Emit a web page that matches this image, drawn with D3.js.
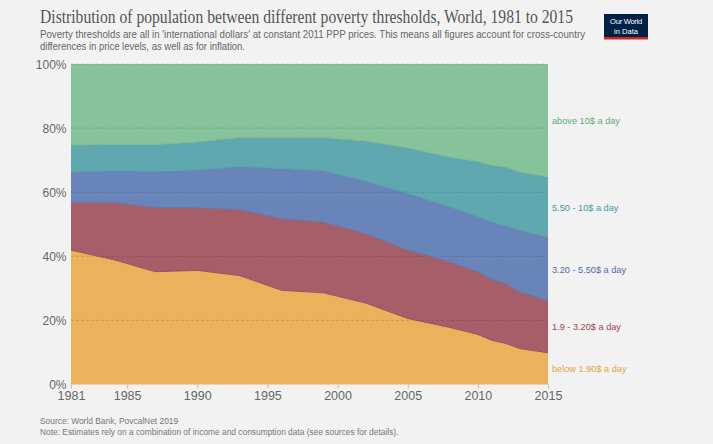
<!DOCTYPE html>
<html><head><meta charset="utf-8">
<script src="https://cdn.jsdelivr.net/npm/d3@7"></script>
<style>
html,body{margin:0;padding:0;background:#f2f2f2;}
svg{display:block;}
</style></head>
<body>
<svg id="chart" width="713" height="444"></svg>
<script>
const years = [1981,1984,1987,1990,1993,1996,1999,2002,2005,2008,2010,2011,2012,2013,2015];
// shares in % of population, by threshold band
const below190  = [41.9,39.0,35.2,35.6,34.0,29.4,28.6,25.4,20.6,17.8,15.6,13.8,12.8,11.2,9.9];
const b190_320  = [15.0,17.9,20.0,19.6,20.6,22.4,22.1,21.7,21.4,20.5,19.6,19.0,18.7,17.7,16.3];
const b320_550  = [9.4,9.8,11.3,11.7,13.4,15.6,16.0,16.4,17.6,17.1,17.2,17.9,18.0,19.2,19.8];
const b550_10   = [8.4,8.3,8.4,8.8,9.1,9.7,10.4,12.5,14.3,15.6,17.2,17.7,18.4,18.2,18.8];
const above10   = [25.3,25.0,25.1,24.3,22.9,22.9,22.9,24.0,26.1,29.0,30.4,31.6,32.1,33.7,35.2];
const seriesNames = ["below 1.90$ a day","1.9 - 3.20$ a day","3.20 - 5.50$ a day","5.50 - 10$ a day","above 10$ a day"];
const seriesValues = [below190,b190_320,b320_550,b550_10,above10];
const fills = ["#ebb25c","#a65f69","#6884b8","#5fa8b0","#87c39a"];
const strokes = ["#e3a84e","#9a525d","#5d79ae","#549ea7","#7bba8f"];
const labelColors = ["#e8a33a","#a3414f","#4c6cad","#3d9aa6","#5aae75"];
const xTicks = [1981,1985,1990,1995,2000,2005,2010,2015];
const yTicks = [0,20,40,60,80,100];

const svg = d3.select("#chart");
const m = {left:71,right:548,top:64,bottom:384.5};
const x = d3.scaleLinear().domain([1981,2015]).range([m.left,m.right]);
const y = d3.scaleLinear().domain([0,100]).range([m.bottom,m.top]);

const table = years.map((yr,i)=>{const o={year:yr}; seriesNames.forEach((n,k)=>o[n]=seriesValues[k][i]); return o;});
const stack = d3.stack().keys(seriesNames)(table);
const area = d3.area().x(d=>x(d.data.year)).y0(d=>y(d[0])).y1(d=>y(Math.min(d[1],100)));
const line = d3.line().x(d=>x(d.data.year)).y(d=>y(Math.min(d[1],100)));

// Title
svg.append("text").attr("x",40).attr("y",23).attr("font-family","'Liberation Serif','DejaVu Serif',serif")
  .attr("font-size",18.5).attr("fill","#555").attr("textLength",533).attr("lengthAdjust","spacingAndGlyphs")
  .text("Distribution of population between different poverty thresholds, World, 1981 to 2015");
const sub = ["Poverty thresholds are all in 'international dollars' at constant 2011 PPP prices. This means all figures account for cross-country","differences in price levels, as well as for inflation."];
const subLen = [545, 205];
sub.forEach((t,i)=>svg.append("text").attr("x",40).attr("y",38+i*11.5).attr("font-family","'Liberation Sans',Arial,sans-serif")
  .attr("font-size",10.1).attr("fill","#666").attr("textLength",subLen[i]).attr("lengthAdjust","spacingAndGlyphs").text(t));

// logo
const lg = svg.append("g");
lg.append("rect").attr("x",604).attr("y",14).attr("width",44).attr("height",24).attr("fill","#002147");
lg.append("rect").attr("x",604).attr("y",37).attr("width",44).attr("height",2.5).attr("fill","#ce261e");
const lt = lg.append("text").attr("text-anchor","middle").attr("font-family","'Liberation Sans',Arial,sans-serif")
  .attr("font-size",7.6).attr("fill","#fff");
lt.append("tspan").attr("x",626).attr("y",23.5).attr("letter-spacing",-0.3).text("Our World");
lt.append("tspan").attr("x",626).attr("y",34).text("in Data");

// areas
svg.append("g").selectAll("path").data(stack).join("path")
  .attr("d",area).attr("fill",(d,i)=>fills[i]);
svg.append("g").selectAll("path").data(stack.slice(0,4)).join("path")
  .attr("d",line).attr("fill","none").attr("stroke",(d,i)=>strokes[i+1]).attr("stroke-width",1);

// gridlines
svg.append("g").selectAll("line").data(yTicks.filter(t=>t>0)).join("line")
  .attr("x1",m.left).attr("x2",m.right).attr("y1",d=>y(d)).attr("y2",d=>y(d))
  .attr("stroke","#000").attr("stroke-opacity",0.12).attr("stroke-dasharray","3,2");

// y labels
svg.append("g").selectAll("text").data(yTicks).join("text")
  .attr("x",66.5).attr("y",d=>y(d)+4.5).attr("text-anchor","end")
  .attr("font-family","'Liberation Sans',Arial,sans-serif").attr("font-size",12).attr("fill","#666")
  .text(d=>d+"%");

// x axis
const xa = svg.append("g").attr("transform",`translate(0,${m.bottom})`)
  .call(d3.axisBottom(x).tickValues(xTicks).tickFormat(d3.format("d")).tickSize(4).tickPadding(3));
xa.select(".domain").remove();
xa.selectAll("line").attr("stroke","#bbb");
xa.selectAll("text").attr("font-family","'Liberation Sans',Arial,sans-serif").attr("font-size",12.5).attr("fill","#666");

// right labels
const labelY = [368,326,269,207,120];
svg.append("g").selectAll("text").data(seriesNames).join("text")
  .attr("x",552).attr("y",(d,i)=>labelY[i]+3.5)
  .attr("font-family","'Liberation Sans',Arial,sans-serif").attr("font-size",9.2)
  .attr("fill",(d,i)=>labelColors[i]).text(d=>d);

// footer
svg.append("text").attr("x",40).attr("y",424).attr("font-family","'Liberation Sans',Arial,sans-serif")
  .attr("font-size",8.4).attr("fill","#777").text("Source: World Bank, PovcalNet 2019");
svg.append("text").attr("x",40).attr("y",434.5).attr("font-family","'Liberation Sans',Arial,sans-serif")
  .attr("font-size",8.4).attr("fill","#777").text("Note: Estimates rely on a combination of income and consumption data (see sources for details).");
</script>
</body></html>
